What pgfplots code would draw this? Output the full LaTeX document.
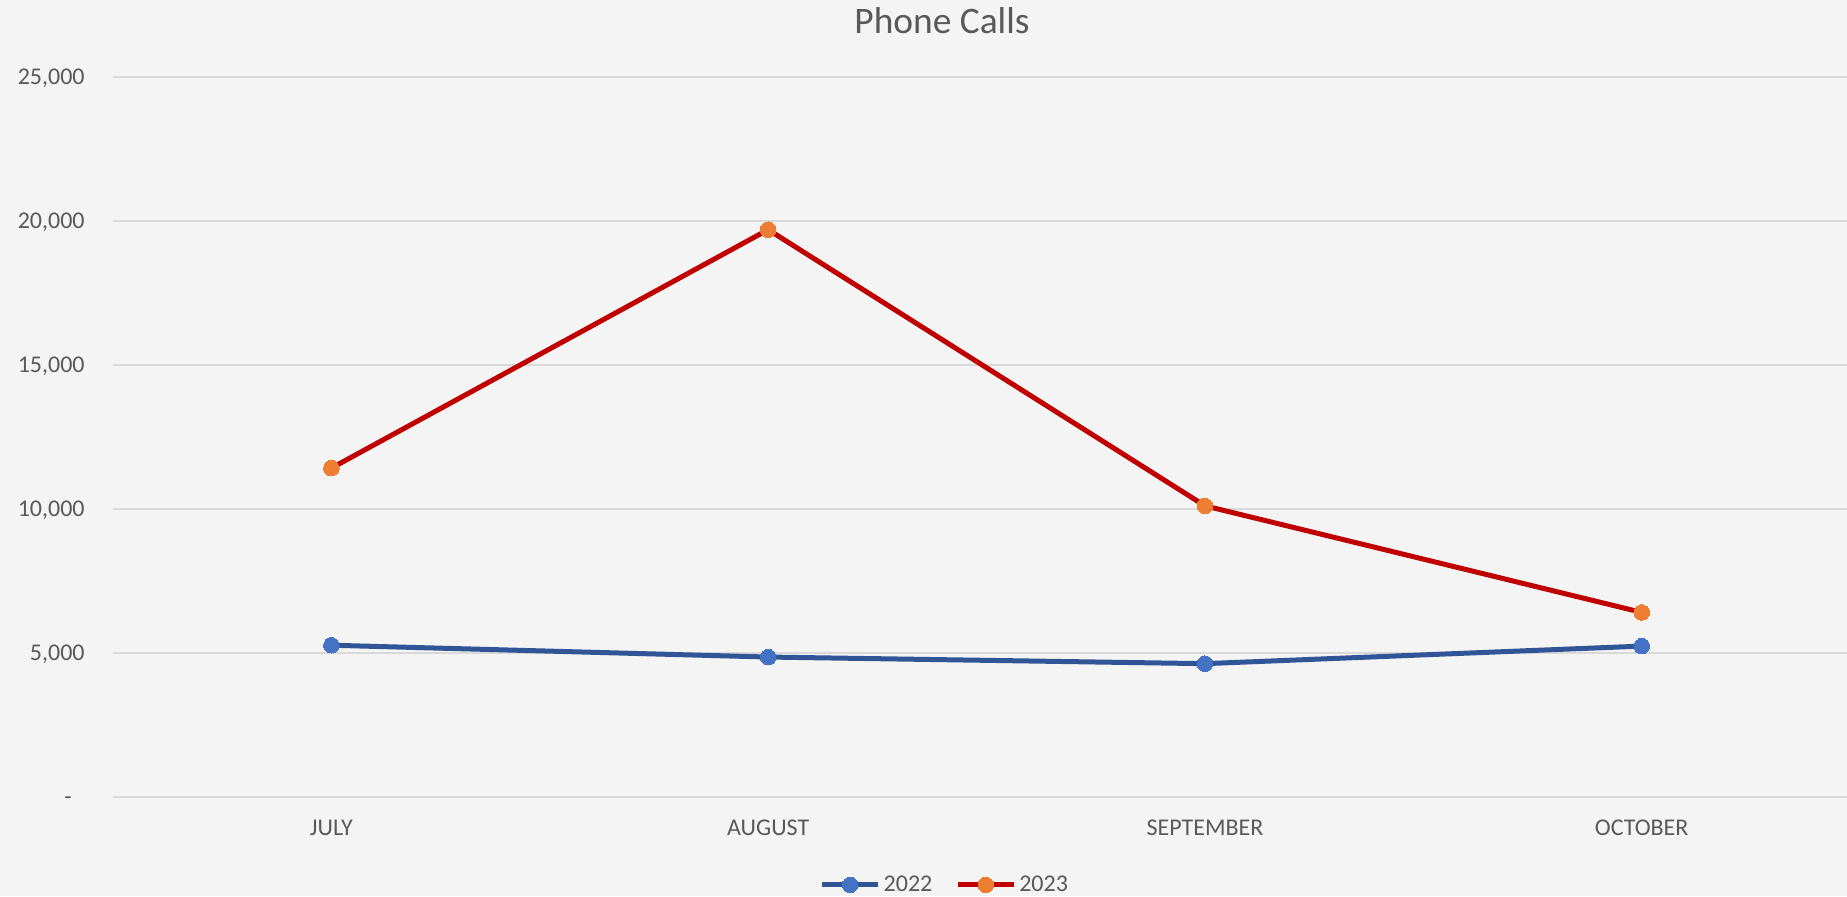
\documentclass[border=0pt]{standalone}
\usepackage{fontspec}
\setmainfont{Carlito}
\usepackage{pgfplots}
\pgfplotsset{compat=1.18}
\definecolor{bg}{HTML}{F4F4F4}
\definecolor{txt}{HTML}{595959}
\definecolor{gridc}{HTML}{D9D9D9}
\definecolor{blueline}{HTML}{2F5597}
\definecolor{bluemark}{HTML}{4472C4}
\definecolor{redline}{HTML}{C00000}
\definecolor{orangemark}{HTML}{ED7D31}
\begin{document}
\begin{tikzpicture}
\fill[bg] (-56.5pt,-49.5pt) rectangle (867pt,398.5pt);
\begin{axis}[
  at={(0pt,0pt)}, anchor=south west,
  scale only axis, width=867pt, height=360pt,
  xmin=-0.5, xmax=3.47, ymin=0, ymax=25000,
  clip=false,
  scaled y ticks=false,
  axis line style={draw=none},
  tick style={draw=none},
  major tick length=0pt,
  xtick={0,1,2,3},
  xticklabels={JULY,AUGUST,SEPTEMBER,OCTOBER},
  ytick={0,5000,10000,15000,20000,25000},
  yticklabels={{-\hspace*{6.5pt}},{5,000},{10,000},{15,000},{20,000},{25,000}},
  ymajorgrids,
  major grid style={gridc, line width=1pt},
  tick label style={font=\fontsize{12}{14}\selectfont, text=txt},
  yticklabel style={anchor=base east, inner sep=0pt, xshift=-14pt, yshift=-3.8pt},
  xticklabel style={anchor=base, inner sep=0pt, yshift=-19.3pt},
  legend columns=2,
  legend style={at={(0.48,-0.122)}, anchor=center, draw=none, fill=none,
    font=\fontsize{12}{14}\selectfont, text=txt,
    /tikz/every even column/.append style={column sep=10pt},
    nodes={inner sep=1.5pt}},
  legend image code/.code={\draw[mark repeat=2,mark phase=2] plot coordinates {(0pt,0pt) (14pt,0pt) (28pt,0pt)};},
]
\addplot[blueline, line width=2.5pt, line join=round, mark=*, mark size=3.9pt, mark options={draw=bluemark, fill=bluemark, line width=0pt}]
  coordinates {(0,5270) (1,4860) (2,4630) (3,5240)};
\addlegendentry{2022}
\addplot[redline, line width=2.5pt, line join=round, mark=*, mark size=3.9pt, mark options={draw=orangemark, fill=orangemark, line width=0pt}]
  coordinates {(0,11420) (1,19700) (2,10110) (3,6410)};
\addlegendentry{2023}
\end{axis}
\node[anchor=base, font=\fontsize{18.7}{22}\selectfont, text=txt] at (414.5pt,381.5pt) {Phone Calls};
\pgfresetboundingbox
\path[use as bounding box] (-56.5pt,-49.5pt) rectangle (867pt,398.5pt);
\end{tikzpicture}
\end{document}
